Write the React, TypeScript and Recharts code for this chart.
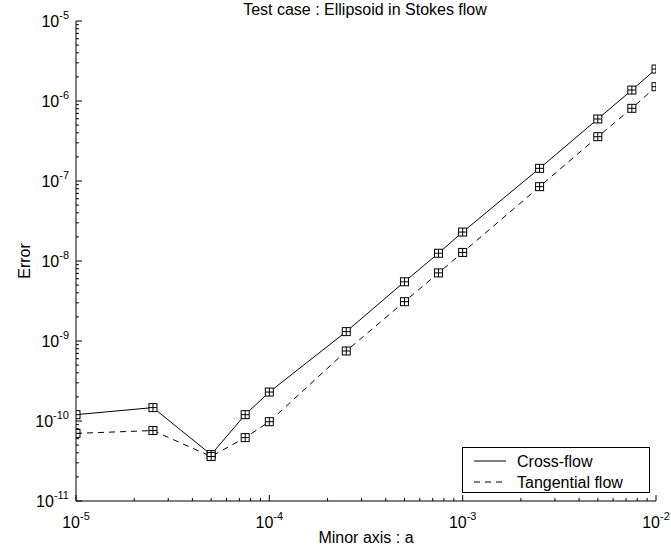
import React from 'react';
import { LineChart, Line, XAxis, YAxis, Legend, Label } from 'recharts';

// values (log-log)
const minorAxis = [1e-5, 2.5e-5, 5e-5, 7.5e-5, 1e-4, 2.5e-4, 5e-4, 7.5e-4, 1e-3, 2.5e-3, 5e-3, 7.5e-3, 1e-2];
const crossFlow = [1.2e-10, 1.47e-10, 3.8e-11, 1.2e-10, 2.3e-10, 1.31e-9, 5.5e-9, 1.25e-8, 2.3e-8, 1.44e-7, 5.96e-7, 1.37e-6, 2.51e-6];
const tangentialFlow = [7.0e-11, 7.6e-11, 3.6e-11, 6.2e-11, 9.8e-11, 7.5e-10, 3.1e-9, 7.1e-9, 1.28e-8, 8.5e-8, 3.58e-7, 8.1e-7, 1.51e-6];

const xDecades = [1e-5, 1e-4, 1e-3, 1e-2];
const yDecades = [1e-11, 1e-10, 1e-9, 1e-8, 1e-7, 1e-6, 1e-5];
const mantissas = [2, 3, 4, 5, 6, 7, 8, 9];

const withMinors = (decades: number[]) => [
    ...decades,
    ...decades.slice(0, -1).flatMap((d) => mantissas.map((m) => m * d)),
];
const xTicks = withMinors(xDecades);
const yTicks = withMinors(yDecades);

const data = minorAxis.map((a, i) => ({ a, cross: crossFlow[i], tang: tangentialFlow[i] }));

const FONT = '"Liberation Sans", Arial, Helvetica, sans-serif';
const MAJOR = 6;
const MINOR = 3;

const isDecade = (v: number) => {
    const l = Math.log10(v);
    return Math.abs(l - Math.round(l)) < 1e-6;
};
const exponent = (v: number) => String(Math.round(Math.log10(v)));

const PowerLabel = ({ x, y, v, anchor }: { x: number; y: number; v: number; anchor: 'middle' | 'end' }) => (
    <text x={x} y={y} textAnchor={anchor} fontSize={16} fontFamily={FONT} fill="#000">
        10
        <tspan dy={-8} fontSize={11}>
            {exponent(v)}
        </tspan>
    </text>
);

const BottomTick = (props: any) => {
    const { x, y, payload } = props;
    const major = isDecade(payload.value);
    return (
        <g>
            <line x1={x} y1={y} x2={x} y2={y - (major ? MAJOR : MINOR)} stroke="#000" strokeWidth={1} />
            {major && <PowerLabel x={x} y={y + 27} v={payload.value} anchor="middle" />}
        </g>
    );
};

const TopTick = (props: any) => {
    const { x, y, payload } = props;
    const major = isDecade(payload.value);
    return <line x1={x} y1={y} x2={x} y2={y + (major ? MAJOR : MINOR)} stroke="#000" strokeWidth={1} />;
};

const LeftTick = (props: any) => {
    const { x, y, payload } = props;
    const major = isDecade(payload.value);
    return (
        <g>
            <line x1={x} y1={y} x2={x + (major ? MAJOR : MINOR)} y2={y} stroke="#000" strokeWidth={1} />
            {major && <PowerLabel x={x - 7} y={y + 6} v={payload.value} anchor="end" />}
        </g>
    );
};

const RightTick = (props: any) => {
    const { x, y, payload } = props;
    const major = isDecade(payload.value);
    return <line x1={x} y1={y} x2={x - (major ? MAJOR : MINOR)} y2={y} stroke="#000" strokeWidth={1} />;
};

const Marker = (props: any) => {
    const { cx, cy, index } = props;
    if (cx == null || cy == null) return <g key={index} />;
    return (
        <g key={index}>
            <rect x={cx - 4} y={cy - 4} width={8} height={8} fill="#fff" stroke="#000" strokeWidth={1} />
            <line x1={cx - 4} y1={cy} x2={cx + 4} y2={cy} stroke="#000" />
            <line x1={cx} y1={cy - 4} x2={cx} y2={cy + 4} stroke="#000" />
        </g>
    );
};

const LegendBox = () => (
    <div
        style={{
            width: 188,
            height: 46,
            border: '1px solid #000',
            background: '#fff',
            boxSizing: 'border-box',
        }}
    >
        <svg width={186} height={44} style={{ display: 'block' }}>
            <line x1={11} y1={13} x2={43} y2={13} stroke="#000" />
            <text x={54} y={19} fontSize={16} fontFamily={FONT}>Cross-flow</text>
            <line x1={11} y1={34} x2={43} y2={34} stroke="#000" strokeDasharray="6 5" />
            <text x={54} y={40} fontSize={16} fontFamily={FONT}>Tangential flow</text>
        </svg>
    </div>
);

export default function App() {
    return (
        <div style={{ position: 'absolute', left: 0, top: 0, width: 671, height: 551, background: '#fff' }}>
            <div
                style={{
                    position: 'absolute',
                    left: 0,
                    width: 730,
                    top: 0,
                    textAlign: 'center',
                    fontFamily: FONT,
                    fontSize: 16,
                    lineHeight: '20px',
                    color: '#000',
                    zIndex: 2,
                }}
            >
                Test case : Ellipsoid in Stokes flow
            </div>
            <LineChart width={671} height={551} data={data} margin={{ top: 21, right: 15, bottom: 0, left: 0 }}>
                <XAxis
                    dataKey="a"
                    type="number"
                    scale="log"
                    domain={[1e-5, 1e-2]}
                    allowDataOverflow
                    ticks={xTicks}
                    interval={0}
                    tick={<BottomTick />}
                    tickLine={false}
                    tickSize={0}
                    tickMargin={0}
                    height={50}
                    axisLine={{ stroke: '#000' }}
                >
                    <Label
                        content={(p: any) => {
                            const vb = p.viewBox;
                            return (
                                <text x={vb.x + vb.width / 2} y={543} textAnchor="middle" fontSize={16} fontFamily={FONT} fill="#000">
                                    Minor axis : a
                                </text>
                            );
                        }}
                    />
                </XAxis>
                <XAxis
                    xAxisId="top"
                    orientation="top"
                    dataKey="a"
                    type="number"
                    scale="log"
                    domain={[1e-5, 1e-2]}
                    allowDataOverflow
                    ticks={xTicks}
                    interval={0}
                    tick={<TopTick />}
                    tickLine={false}
                    tickSize={0}
                    tickMargin={0}
                    height={0}
                    axisLine={{ stroke: '#000' }}
                />
                <YAxis
                    type="number"
                    scale="log"
                    domain={[1e-11, 1e-5]}
                    allowDataOverflow
                    ticks={yTicks}
                    interval={0}
                    tick={<LeftTick />}
                    tickLine={false}
                    tickSize={0}
                    tickMargin={0}
                    width={76}
                    axisLine={{ stroke: '#000' }}
                >
                    <Label
                        content={(p: any) => {
                            const vb = p.viewBox;
                            const cy = vb.y + vb.height / 2;
                            return (
                                <text
                                    x={30}
                                    y={cy}
                                    textAnchor="middle"
                                    fontSize={16}
                                    fontFamily={FONT}
                                    fill="#000"
                                    transform={`rotate(-90, 30, ${cy})`}
                                >
                                    Error
                                </text>
                            );
                        }}
                    />
                </YAxis>
                <YAxis
                    yAxisId="right"
                    orientation="right"
                    type="number"
                    scale="log"
                    domain={[1e-11, 1e-5]}
                    allowDataOverflow
                    ticks={yTicks}
                    interval={0}
                    tick={<RightTick />}
                    tickLine={false}
                    tickSize={0}
                    tickMargin={0}
                    width={0}
                    axisLine={{ stroke: '#000' }}
                />
                <Line
                    dataKey="cross"
                    name="Cross-flow"
                    stroke="#000"
                    strokeWidth={1}
                    dot={Marker}
                    activeDot={false}
                    isAnimationActive={false}
                />
                <Line
                    dataKey="tang"
                    name="Tangential flow"
                    stroke="#000"
                    strokeWidth={1}
                    strokeDasharray="6 5"
                    dot={Marker}
                    activeDot={false}
                    isAnimationActive={false}
                />
                <Legend
                    content={() => <LegendBox />}
                    verticalAlign="middle"
                    align="center"
                    wrapperStyle={{ left: 462, top: 447, width: 188, height: 46 }}
                />
            </LineChart>
        </div>
    );
}
